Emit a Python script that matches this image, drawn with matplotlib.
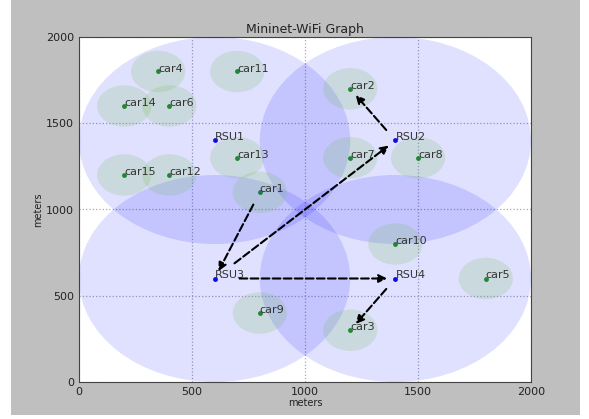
import matplotlib
matplotlib.use('Agg')
import matplotlib.pyplot as plt
from matplotlib.patches import Circle, Rectangle

# nodes
rsu_names = ['RSU1', 'RSU2', 'RSU3', 'RSU4']
rsu_x = [600, 1400, 600, 1400]
rsu_y = [1400, 1400, 600, 600]
rsu_range = 600

car_names = ['car1', 'car2', 'car3', 'car4', 'car5', 'car6', 'car7', 'car8',
             'car9', 'car10', 'car11', 'car12', 'car13', 'car14', 'car15']
car_x = [800, 1200, 1200, 350, 1800, 400, 1200, 1500, 800, 1400, 700, 400, 700, 200, 200]
car_y = [1100, 1700, 300, 1800, 600, 1600, 1300, 1300, 400, 800, 1800, 1200, 1300, 1600, 1200]
car_range = 120

# message path (source, destination)
links = [('car1', 'RSU3'), ('RSU3', 'RSU2'), ('RSU3', 'RSU4'),
         ('RSU2', 'car2'), ('RSU4', 'car3')]

pos = {}
for n, x, y in zip(rsu_names, rsu_x, rsu_y):
    pos[n] = (x, y)
for n, x, y in zip(car_names, car_x, car_y):
    pos[n] = (x, y)

fig = plt.figure(figsize=(5.89, 4.19), dpi=100, facecolor='white')
# gray window background (screenshot has a thin white border)
fig.patches.append(Rectangle((11 / 589, 4 / 419), 569 / 589, 415 / 419,
                             transform=fig.transFigure, facecolor='#bfbfbf',
                             edgecolor='none', zorder=-10))
ax = fig.add_axes([79 / 589, 37 / 419, 452 / 589, 345 / 419])

# dots first, coverage circles drawn on top
ax.plot(car_x, car_y, 'o', color='#108a10', markersize=3.5, markeredgewidth=0, zorder=2)
ax.plot(rsu_x, rsu_y, 'o', color='#1010e0', markersize=3.5, markeredgewidth=0, zorder=2)

for x, y in zip(rsu_x, rsu_y):
    ax.add_patch(Circle((x, y), rsu_range, color='blue', alpha=0.12, linewidth=0, zorder=3))
for x, y in zip(car_x, car_y):
    ax.add_patch(Circle((x, y), car_range, color=(0.45, 0.75, 0.35), alpha=0.2,
                        linewidth=0, zorder=3))

for n, x, y in zip(rsu_names + car_names, rsu_x + car_x, rsu_y + car_y):
    ax.text(x, y, n, fontsize=8, color='#333333', zorder=4)

for src, dst in links:
    shrink_a = 18 if src == 'RSU3' else 10
    ax.annotate('', xy=pos[dst], xytext=pos[src],
                arrowprops=dict(arrowstyle='-|>', linestyle='--', linewidth=1.5,
                                color='black', mutation_scale=12,
                                shrinkA=shrink_a, shrinkB=6),
                zorder=5)

ax.set_xlim(0, 2000)
ax.set_ylim(0, 2000)
ax.set_xticks([0, 500, 1000, 1500, 2000])
ax.set_yticks([0, 500, 1000, 1500, 2000])
ax.tick_params(labelsize=8, direction='in', length=0, colors='#222222')
ax.grid(True, linestyle=':', color='#a8a8b8', linewidth=0.9)
for s in ax.spines.values():
    s.set_color('#444444')
ax.set_title('Mininet-WiFi Graph', fontsize=9, color='#222222', pad=3)
ax.set_xlabel('meters', fontsize=7, color='#222222', labelpad=1)
ax.set_ylabel('meters', fontsize=7, color='#222222', labelpad=2)

fig.savefig('out.png', dpi=100, facecolor=fig.get_facecolor())
